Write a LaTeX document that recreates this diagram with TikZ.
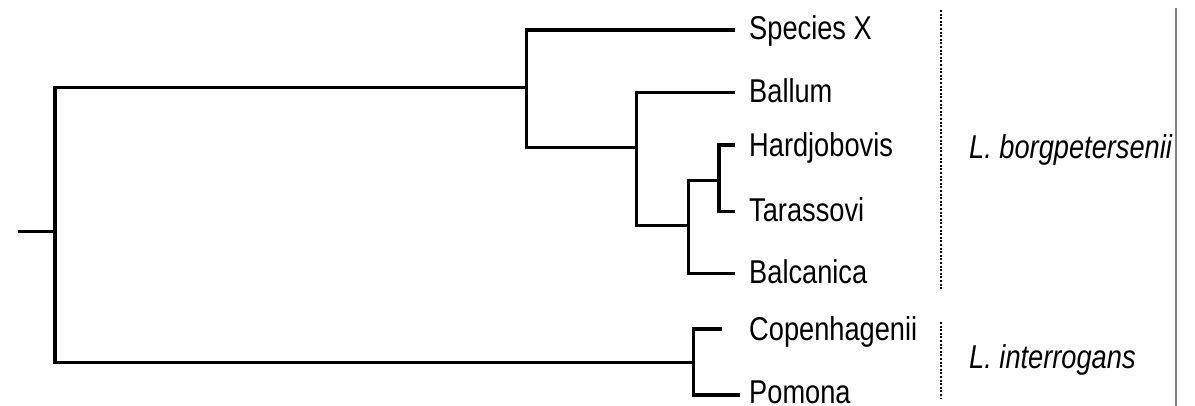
\documentclass[tikz,border=0pt]{standalone}
\usepackage{fontspec}
\setmainfont{Liberation Sans}[FakeStretch=0.825]
\begin{document}
\begin{tikzpicture}[x=1pt,y=-1pt,
  branch/.style={draw=black,line width=3.2pt,line join=miter},
  stub/.style={draw=black,line width=2.4pt},
  leaf/.style={anchor=base west,inner sep=0pt,font=\fontsize{33}{39}\selectfont},
  clade/.style={anchor=base west,inner sep=0pt,font=\fontsize{33}{39}\selectfont\itshape},
  sep/.style={draw=black,line width=2.2pt,dash pattern=on 2pt off 1.6pt},
  edge/.style={draw=black!50,line width=1.2pt}]
\useasboundingbox (0,0) rectangle (1195,406);
% internal nodes
\coordinate (s0) at (18,231.7);
\coordinate (R) at (55,231.7);
\coordinate (A) at (526.7,87.3);
\coordinate (B) at (636.7,147.7);
\coordinate (C) at (688.3,225.7);
\coordinate (D) at (719,180.7);
\coordinate (E) at (693.3,362.3);
% branch tips
\coordinate (tX) at (735,30);
\coordinate (tBal) at (735,92.3);
\coordinate (tH) at (735,145);
\coordinate (tT) at (735,211.7);
\coordinate (tBc) at (735,273.3);
\coordinate (tC) at (721.7,329);
\coordinate (tP) at (740,395);
% labels
\node[leaf] (lX) at (749,40) {Species X};
\node[leaf] (lBal) at (749,103) {Ballum};
\node[leaf] (lH) at (749,156.5) {Hardjobovis};
\node[leaf] (lT) at (749,222) {Tarassovi};
\node[leaf] (lBc) at (749,284) {Balcanica};
\node[leaf] (lC) at (749,341) {Copenhagenii};
\node[leaf] (lP) at (749,403) {Pomona};
\node[clade] (lb) at (969,158.3) {L. borgpetersenii};
\node[clade] (li) at (969,368.3) {L. interrogans};
% tree
\draw[stub] (s0) -- (R);
\draw[branch] (R) |- (A);
\draw[branch] (R) |- (E);
\draw[branch] (A) |- (tX);
\draw[branch] (A) |- (B);
\draw[branch] (B) |- (tBal);
\draw[branch] (B) |- (C);
\draw[branch] (C) |- (D);
\draw[branch] (C) |- (tBc);
\draw[branch] (D) |- (tH);
\draw[branch] (D) |- (tT);
\draw[branch] (E) |- (tC);
\draw[branch] (E) |- (tP);
% separators
\coordinate (d1a) at (941,10);
\coordinate (d1b) at (941,289);
\coordinate (d2a) at (941,322);
\coordinate (d2b) at (941,398);
\draw[sep] (d1a) -- (d1b);
\draw[sep] (d2a) -- (d2b);
\coordinate (ea) at (1176,8);
\coordinate (eb) at (1176,406);
\draw[edge] (ea) -- (eb);
\end{tikzpicture}
\end{document}
